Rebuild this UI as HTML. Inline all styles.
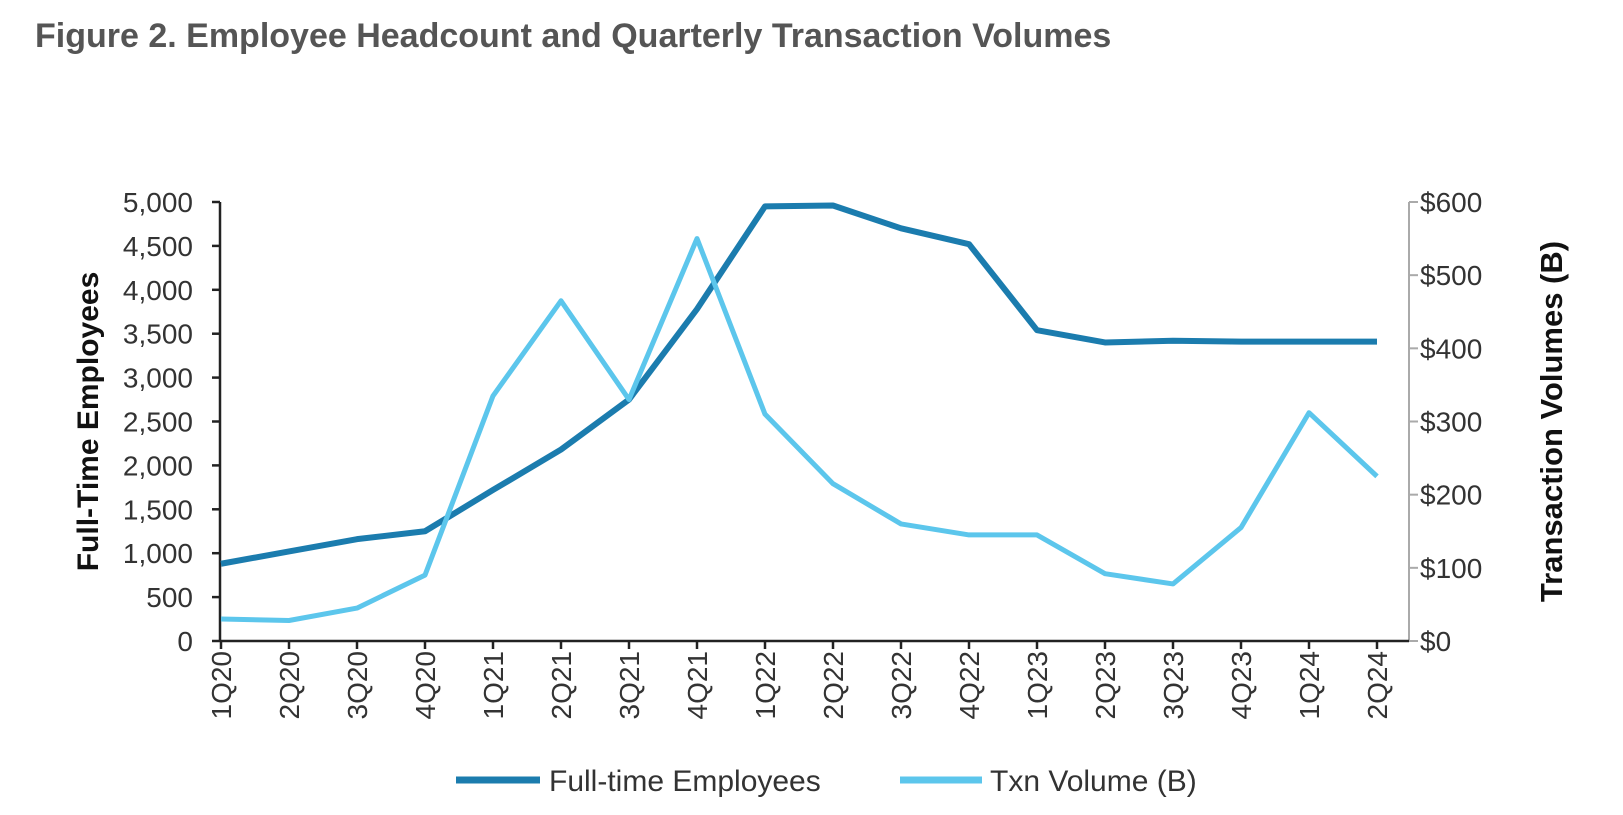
<!DOCTYPE html>
<html><head><meta charset="utf-8"><style>
html,body{margin:0;padding:0;background:#fff;width:1623px;height:815px;overflow:hidden}
svg{display:block;font-family:"Liberation Sans",sans-serif}
</style></head><body>
<svg id="chart" width="1623" height="815">
<text x="35" y="47" font-size="34" font-weight="bold" fill="#555">Figure 2. Employee Headcount and Quarterly Transaction Volumes</text>
<g id="g"></g>
</svg>
<script>
const categories=["1Q20","2Q20","3Q20","4Q20","1Q21","2Q21","3Q21","4Q21","1Q22","2Q22","3Q22","4Q22","1Q23","2Q23","3Q23","4Q23","1Q24","2Q24"];
const employees=[880,1020,1160,1250,1720,2180,2750,3780,4950,4960,4700,4520,3540,3400,3420,3410,3410,3410];
const txnVolume=[30,28,45,90,335,465,330,550,310,215,160,145,145,92,78,155,312,225];
const leftTicks=[0,500,1000,1500,2000,2500,3000,3500,4000,4500,5000];
const rightTicks=[0,100,200,300,400,500,600];
const NS="http://www.w3.org/2000/svg";
const g=document.getElementById('g');
const X0=221,STEP=68,YT=202,YB=641,XL=220,XR=1409;
const xs=i=>X0+STEP*i;
const yl=v=>YB-(v/5000)*(YB-YT);
const yr=v=>YB-(v/600)*(YB-YT);
function mk(tag,attrs,txt){const e=document.createElementNS(NS,tag);for(const k in attrs)e.setAttribute(k,attrs[k]);if(txt!==undefined)e.textContent=txt;g.appendChild(e);return e;}
let e=mk('line',{x1:XL,y1:YT,x2:XL,y2:YB,stroke:'#222','stroke-width':2.5});


e=mk('line',{x1:XR,y1:YT,x2:XR,y2:YB,stroke:'#aaa','stroke-width':2});


e=mk('line',{x1:XL,y1:YB,x2:XR,y2:YB,stroke:'#222','stroke-width':2.5});


leftTicks.forEach(v=>{
  mk('line',{x1:XL-8,y1:yl(v),x2:XL,y2:yl(v),stroke:'#222','stroke-width':2.5});
  e=mk('text',{x:XL-27,y:yl(v)+10,'font-size':28,fill:'#333','text-anchor':'end'},v.toLocaleString('en-US'));
  
  
});
rightTicks.forEach(v=>{
  mk('line',{x1:XR,y1:yr(v),x2:XR+9,y2:yr(v),stroke:'#aaa','stroke-width':2});
  e=mk('text',{x:XR+11,y:yr(v)+10,'font-size':28,fill:'#333'},'$'+v);
  
  
});
categories.forEach((c,i)=>{
  mk('line',{x1:xs(i),y1:YB,x2:xs(i),y2:YB+8,stroke:'#222','stroke-width':2.5});
  e=mk('text',{transform:`translate(${xs(i)+10},${YB+10}) rotate(-90)`,'font-size':28,fill:'#333','text-anchor':'end'},c);
  
  
});
e=mk('text',{transform:`translate(98,${(YT+YB)/2}) rotate(-90)`,'font-size':30,'font-weight':'bold',fill:'#111','text-anchor':'middle'},'Full-Time Employees');


e=mk('text',{transform:`translate(1562,${(YT+YB)/2}) rotate(-90)`,'font-size':31,'font-weight':'bold',fill:'#111','text-anchor':'middle'},'Transaction Volumes (B)');


e=mk('polyline',{points:employees.map((v,i)=>xs(i)+','+yl(v)).join(' '),fill:'none',stroke:'#1b7cae','stroke-width':6,'stroke-linejoin':'round'});


e=mk('polyline',{points:txnVolume.map((v,i)=>xs(i)+','+yr(v)).join(' '),fill:'none',stroke:'#5cc6ec','stroke-width':5,'stroke-linejoin':'round'});


e=mk('line',{x1:456,y1:780,x2:540,y2:780,stroke:'#1b7cae','stroke-width':7});


e=mk('text',{x:549,y:791,'font-size':30,fill:'#333'},'Full-time Employees');


e=mk('line',{x1:900,y1:780,x2:982,y2:780,stroke:'#5cc6ec','stroke-width':7});


e=mk('text',{x:990,y:791,'font-size':30,fill:'#333'},'Txn Volume (B)');


</script>
</body></html>
